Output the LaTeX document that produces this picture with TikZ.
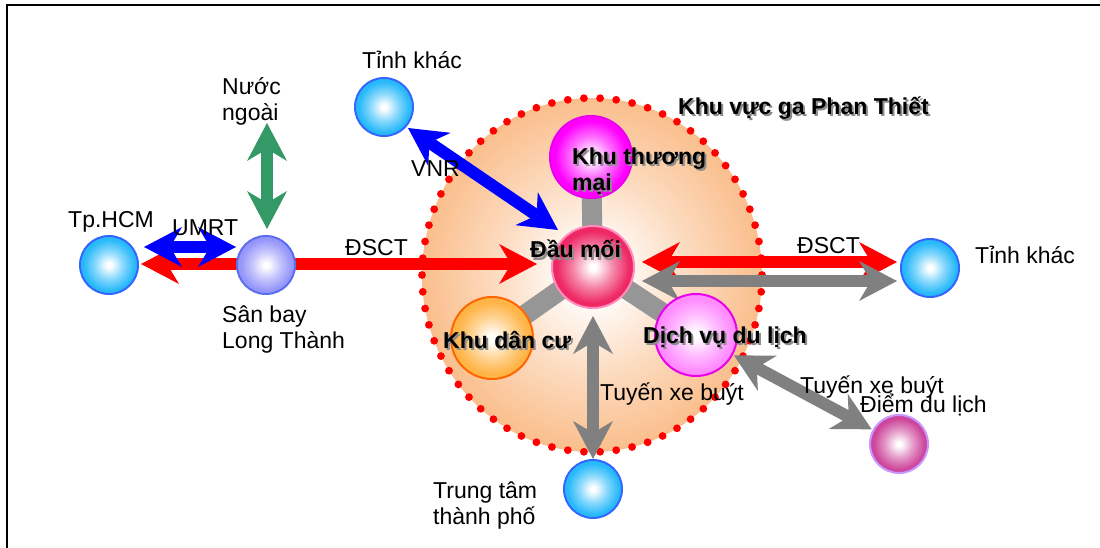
\documentclass[tikz,border=0pt]{standalone}
\usepackage{fontspec}
\setmainfont{Liberation Sans}
\usetikzlibrary{arrows.meta,calc}

\definecolor{peach}{RGB}{250,190,140}
\definecolor{skyball}{RGB}{40,185,250}
\definecolor{skyedge}{RGB}{51,102,255}
\definecolor{lavball}{RGB}{150,150,250}
\definecolor{lavedge}{RGB}{90,110,240}
\definecolor{hubball}{RGB}{238,40,100}
\definecolor{hubedge}{RGB}{255,140,190}
\definecolor{magball}{RGB}{255,0,255}
\definecolor{magedge}{RGB}{235,0,235}
\definecolor{orball}{RGB}{255,180,70}
\definecolor{oredge}{RGB}{255,102,0}
\definecolor{pinkball}{RGB}{255,140,255}
\definecolor{tourball}{RGB}{205,70,155}
\definecolor{touredge}{RGB}{200,150,255}
\definecolor{arrgreen}{RGB}{51,153,102}
\definecolor{arrgrey}{RGB}{128,128,128}
\definecolor{spokegrey}{RGB}{150,150,150}
\definecolor{shadowgrey}{RGB}{140,140,140}

% radial fills: white core fading to the ball colour at the rim (rim = 25bp)
\pgfdeclareradialshading{areashade}{\pgfpoint{0bp}{0bp}}{color(0bp)=(white); color(3bp)=(white);
  color(14bp)=(peach!55!white); color(25bp)=(peach); color(50bp)=(peach)}
\newcommand\ballshade[2]{%
  \pgfdeclareradialshading{#1}{\pgfpoint{0bp}{0bp}}{color(0bp)=(white); color(2bp)=(white);
    color(12bp)=(#2!55!white); color(22bp)=(#2); color(50bp)=(#2)}}
\ballshade{skyshade}{skyball}
\ballshade{lavshade}{lavball}
\ballshade{hubshade}{hubball}
\ballshade{magshade}{magball}
\ballshade{orshade}{orball}
\ballshade{pinkshade}{pinkball}
\ballshade{tourshade}{tourball}

\pgfdeclarelayer{bg}
\pgfdeclarelayer{links}
\pgfsetlayers{bg,links,main}

\tikzset{
  ball/.style={circle, inner sep=0pt, minimum size=58pt, line width=2pt, shade},
  bigball/.style={circle, inner sep=0pt, minimum size=82pt, line width=2pt, shade},
  lbl/.style={inner sep=0pt, anchor=base west, font=\fontsize{23}{26}\selectfont},
  blbl/.style={lbl, font=\fontsize{23}{26}\selectfont\bfseries},
  tipshape/.tip={Stealth[length=38pt, width=40pt, inset=12pt, line width=0pt]},
  dbl/.style={line width=12pt, tipshape-tipshape},
  spoke/.style={spokegrey, line width=20pt},
}

% bold caption with a soft grey drop shadow
\newcommand\shlabel[3]{%
  \node[blbl, text=shadowgrey] at ($#1+(2,2)$) {#3};
  \node[blbl] (#2) at #1 {#3};}

\begin{document}
\begin{tikzpicture}[x=1pt, y=-1pt]
\useasboundingbox (0,0) rectangle (1100,548);

% station area
\coordinate (areac) at (592,275);
\begin{pgfonlayer}{bg}
  \fill[white] (0,0) rectangle (1100,548);
  \draw[line width=2.5pt] (1100,5) -- (7,5) -- (7,548);
  \path[shading=areashade] (areac) ellipse [x radius=170pt, y radius=177pt];
  \foreach \i in {0,...,65}
    \fill[red] ($(areac)+({170*cos(\i*5.4545)},{177*sin(\i*5.4545)})$) circle[radius=3.9pt];
\end{pgfonlayer}

% places
\node[ball, shading=skyshade, draw=skyedge] (tphcm) at (109,265) {};
\node[ball, shading=lavshade, draw=lavedge] (sanbay) at (266,265) {};
\node[ball, shading=skyshade, draw=skyedge] (tinhA) at (384,107) {};
\node[ball, shading=skyshade, draw=skyedge] (tinhB) at (930,268) {};
\node[ball, shading=skyshade, draw=skyedge] (ttam) at (593,489) {};
\node[ball, shading=tourshade, draw=touredge] (diem) at (899,444) {};
\node[bigball, shading=hubshade, draw=hubedge] (dau) at (593,267) {};
\node[bigball, shading=magshade, draw=magedge] (ktm) at (591,157) {};
\node[bigball, shading=orshade, draw=oredge] (kdc) at (492,338) {};
\node[bigball, shading=pinkshade, draw=magedge] (dv) at (696,335) {};
\coordinate (nuocend) at (267,123);

% links
\begin{pgfonlayer}{links}
  \draw[spoke] (dau.center) -- (ktm.center);
  \draw[spoke] (dau.center) -- (kdc.center);
  \draw[spoke] (dau.center) -- (dv.center);
  \draw[dbl, red] ($(tphcm.east)+(2,-1)$) -- ($(dau.west)+(-14,-3)$);
  \draw[dbl, blue] ($(tphcm.east)+(5,-18)$) -- ($(sanbay.west)+(0,-18)$);
  \draw[dbl, arrgreen] (nuocend) -- ($(sanbay.north)+(1,-6)$);
  \draw[dbl, blue] ($(tinhA.center)+(24,21)$) -- ($(dau.center)+(-35,-37)$);
  \draw[dbl, red] ($(dau.east)+(7,-5)$) -- ($(tinhB.west)+(-3,-6)$);
  \draw[dbl, arrgrey] ($(dau.east)+(7,14)$) -- ($(tinhB.west)+(-3,13)$);
  \draw[dbl, arrgrey] ($(dau.south)+(0,7)$) -- (ttam.north);
  \draw[dbl, arrgrey] ($(dv.center)!43pt!(diem.center)$) -- ($(diem.center)!31pt!(dv.center)$);
\end{pgfonlayer}

% captions
\node[lbl] (tTinhA) at (362,69) {Tỉnh khác};
\node[lbl] (tNuoc) at (222,95) {\begin{tabular}[t]{@{}l@{}}Nước\\ngoài\end{tabular}};
\node[lbl] (tHcm) at (68,227) {Tp.HCM};
\node[lbl] (tUmrt) at (172,235) {UMRT};
\node[lbl] (tDsctA) at (345,255) {ĐSCT};
\node[lbl] (tSanbay) at (222,322) {\begin{tabular}[t]{@{}l@{}}Sân bay\\Long Thành\end{tabular}};
\node[lbl] (tVnr) at (411,177) {VNR};
\node[lbl] (tDsctB) at (797,253) {ĐSCT};
\node[lbl] (tTinhB) at (975,263) {Tỉnh khác};
\node[lbl] (tBusA) at (600,400) {Tuyến xe buýt};
\node[lbl] (tBusB) at (800,393) {Tuyến xe buýt};
\node[lbl] (tDiem) at (860,412) {Điểm du lịch};
\node[lbl] (tTtam) at (433,498) {\begin{tabular}[t]{@{}l@{}}Trung tâm\\thành phố\end{tabular}};

\shlabel{(678,115)}{tArea}{Khu vực ga Phan Thiết}
\shlabel{(572,165)}{tKtm}{\begin{tabular}[t]{@{}l@{}}Khu thương\\mại\end{tabular}}
\shlabel{(530,258)}{tDau}{Đầu mối}
\shlabel{(443,348)}{tKdc}{Khu dân cư}
\shlabel{(643,343)}{tDv}{Dịch vụ du lịch}
\end{tikzpicture}
\end{document}
